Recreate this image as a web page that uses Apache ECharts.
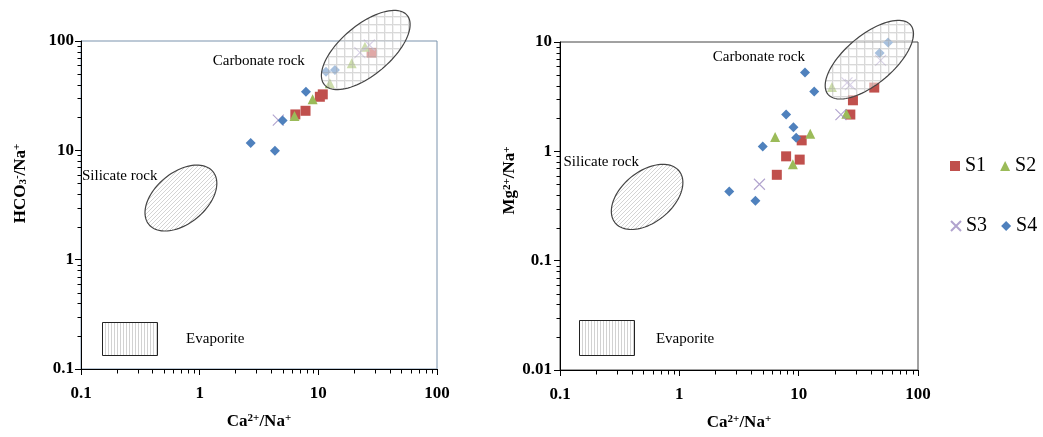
<!DOCTYPE html>
<html>
<head>
<meta charset="utf-8">
<script src="https://cdn.jsdelivr.net/npm/echarts@6/dist/echarts.min.js"></script>
<style>
  html, body { margin: 0; padding: 0; background: #fff; }
  #chart { width: 1043px; height: 437px; }
</style>
</head>
<body>
<div id="chart"></div>
<script>
// left panel: Ca/Na vs HCO3/Na, right panel: Ca/Na vs Mg/Na
const hco3S1 = [[6.4, 21.3], [7.8, 23.0], [10.3, 30.9], [10.9, 32.5], [28.1, 78.0]];
const hco3S2 = [[6.3, 20.6], [8.95, 29.3], [12.5, 41.0], [19.1, 62.5], [24.7, 88.7]];
const hco3S3 = [[4.6, 18.9], [22.4, 78.2], [26.9, 91.9]];
const hco3S4 = [[2.69, 11.7], [4.31, 9.9], [5.0, 18.7], [7.86, 34.4], [11.6, 52.3], [13.8, 54.3]];

const mgS1 = [[43.0, 3.83], [28.5, 2.93], [27.1, 2.17], [10.6, 1.26], [7.85, 0.90], [10.2, 0.84], [6.56, 0.61]];
const mgS2 = [[19.0, 3.88], [25.1, 2.21], [12.5, 1.45], [6.35, 1.35], [8.94, 0.76]];
const mgS3 = [[48.6, 6.8], [25.4, 4.23], [27.1, 4.08], [22.6, 2.17], [4.69, 0.50]];
const mgS4 = [[56.1, 9.9], [47.7, 7.94], [11.3, 5.27], [13.5, 3.52], [7.85, 2.17], [9.04, 1.66],
              [9.53, 1.33], [5.0, 1.11], [2.62, 0.43], [4.34, 0.353]];

// minor ticks (2..9 in each decade)
const xMinor = [0.2, 0.3, 0.4, 0.5, 0.6, 0.7, 0.8, 0.9, 2, 3, 4, 5, 6, 7, 8, 9, 20, 30, 40, 50, 60, 70, 80, 90];
const yMinorLeft = [0.2, 0.3, 0.4, 0.5, 0.6, 0.7, 0.8, 0.9, 2, 3, 4, 5, 6, 7, 8, 9, 20, 30, 40, 50, 60, 70, 80, 90];
const yMinorRight = [0.02, 0.03, 0.04, 0.05, 0.06, 0.07, 0.08, 0.09, 0.2, 0.3, 0.4, 0.5, 0.6, 0.7, 0.8, 0.9,
                     2, 3, 4, 5, 6, 7, 8, 9];

// rock-type fields (centre in data units, semi axes in decades)
const leftFields = [
  { center: [25.1, 82.7], a: 0.455, b: 0.21, rot: 40, fill: 'grid' },
  { center: [0.695, 3.66], a: 0.35, b: 0.215, rot: 39.5, fill: 'diag' }
];
const rightFields = [
  { center: [39.1, 6.89], a: 0.452, b: 0.203, rot: 40, fill: 'grid' },
  { center: [0.537, 0.383], a: 0.345, b: 0.213, rot: 39, fill: 'diag' }
];
const leftBox = [0.151, 0.267, 0.435, 0.132];
const rightBox = [0.145, 0.0285, 0.416, 0.0137];

const leftLabels = [['Carbonate rock', 1.29, 65.6], ['Silicate rock', 0.102, 5.8], ['Evaporite', 0.768, 0.188]];
const rightLabels = [['Carbonate rock', 1.91, 7.35], ['Silicate rock', 0.107, 0.79], ['Evaporite', 0.637, 0.0191]];

const serif = 'Liberation Serif';
const colors = { S1: '#c0504d', S2: '#9bbb59', S3: '#9d8cc2', S4: '#4f81bd' };

function makePattern(kind) {
  const c = document.createElement('canvas');
  const ctx = c.getContext('2d');
  if (kind === 'grid') {
    c.width = 8; c.height = 8;
    ctx.fillStyle = 'rgba(255,255,255,0.5)';
    ctx.fillRect(0, 0, 8, 8);
    ctx.fillStyle = 'rgba(160,160,160,0.4)';
    ctx.fillRect(0, 0, 8, 1);
    ctx.fillRect(0, 1, 1, 7);
    ctx.fillStyle = 'rgba(200,200,200,0.25)';
    ctx.fillRect(0, 1, 8, 1);
    ctx.fillRect(1, 2, 1, 6);
  } else if (kind === 'diag') {
    c.width = 4; c.height = 4;
    ctx.fillStyle = '#fff';
    ctx.fillRect(0, 0, 4, 4);
    ctx.strokeStyle = '#c2c2c2';
    ctx.lineWidth = 0.7;
    ctx.beginPath();
    ctx.moveTo(-1, 5); ctx.lineTo(5, -1);
    ctx.moveTo(-1, 1); ctx.lineTo(1, -1);
    ctx.moveTo(3, 5); ctx.lineTo(5, 3);
    ctx.stroke();
  } else {
    c.width = 3; c.height = 3;
    ctx.fillStyle = '#fff';
    ctx.fillRect(0, 0, 3, 3);
    ctx.fillStyle = '#d2d2d2';
    ctx.fillRect(0, 0, 1, 3);
  }
  return { image: c, repeat: 'repeat' };
}
const patterns = { grid: makePattern('grid'), diag: makePattern('diag'), vert: makePattern('vert') };

function fieldSeries(idx, fields, box) {
  const data = fields.map(f => f.center).concat([[box[0], box[1]]]);
  return {
    type: 'custom', xAxisIndex: idx, yAxisIndex: idx, silent: true, z: 3, clip: false,
    data: data,
    renderItem: function (params, api) {
      const i = params.dataIndex;
      if (i < fields.length) {
        const f = fields[i];
        const p0 = api.coord(f.center);
        const k = api.coord([f.center[0] * 10, f.center[1]])[0] - p0[0];
        const th = f.rot * Math.PI / 180;
        const pts = [];
        for (let j = 0; j < 96; j++) {
          const t = j / 96 * Math.PI * 2;
          const u = f.a * Math.cos(t) * k, v = f.b * Math.sin(t) * k;
          pts.push([p0[0] + u * Math.cos(th) - v * Math.sin(th), p0[1] - (u * Math.sin(th) + v * Math.cos(th))]);
        }
        return { type: 'polygon', shape: { points: pts }, style: { fill: patterns[f.fill], stroke: '#444', lineWidth: 1.2 } };
      }
      const p1 = api.coord([box[0], box[1]]);
      const p2 = api.coord([box[2], box[3]]);
      return {
        type: 'rect',
        shape: { x: Math.round(p1[0]) + 0.5, y: Math.round(p1[1]) + 0.5, width: Math.round(p2[0] - p1[0]), height: Math.round(p2[1] - p1[1]) },
        style: { fill: patterns.vert, stroke: '#222', lineWidth: 1 }
      };
    }
  };
}

function labelSeries(idx, labels) {
  return {
    type: 'custom', xAxisIndex: idx, yAxisIndex: idx, silent: true, z: 4, clip: false,
    data: labels.map(l => [l[1], l[2]]),
    renderItem: function (params, api) {
      const p = api.coord([api.value(0), api.value(1)]);
      return {
        type: 'text', x: p[0], y: p[1],
        style: {
          text: labels[params.dataIndex][0], fill: '#000', font: '15px "' + serif + '"',
          align: 'left', verticalAlign: 'middle', textAlign: 'left', textVerticalAlign: 'middle'
        }
      };
    }
  };
}

function minorTickSeries(idx, xs, ys, xMin, yMin) {
  const data = xs.map(v => [v, yMin, 0]).concat(ys.map(v => [xMin, v, 1]));
  return {
    type: 'custom', xAxisIndex: idx, yAxisIndex: idx, silent: true, z: 5, clip: false,
    data: data, encode: { x: 0, y: 1 },
    renderItem: function (params, api) {
      const p = api.coord([api.value(0), api.value(1)]);
      const x = Math.round(p[0]) + 0.5, y = Math.round(p[1]) + 0.5;
      const shape = api.value(2) === 0 ? { x1: x, y1: y, x2: x, y2: y + 4 } : { x1: x - 4, y1: y, x2: x, y2: y };
      return { type: 'line', shape: shape, style: { stroke: '#000', lineWidth: 1 } };
    }
  };
}

const symbols = {
  S1: { symbol: 'rect', symbolSize: 10 },
  S2: { symbol: 'triangle', symbolSize: 10 },
  S3: { symbol: 'path://M0,0L10,10M10,0L0,10', symbolSize: 11 },
  S4: { symbol: 'diamond', symbolSize: 10 }
};

function scatter(idx, name, data) {
  const s = {
    type: 'scatter', name: name, xAxisIndex: idx, yAxisIndex: idx, data: data, z: 2,
    symbol: symbols[name].symbol, symbolSize: symbols[name].symbolSize,
    itemStyle: { color: colors[name], opacity: 1 }
  };
  if (name === 'S3') s.itemStyle = { color: colors.S3, borderColor: colors.S3, borderWidth: 1.1 };
  return s;
}

const nameRich = {
  n: { fontFamily: serif, fontWeight: 'bold', fontSize: 17, color: '#000' },
  sup: { fontFamily: serif, fontWeight: 'bold', fontSize: 11, color: '#000', verticalAlign: 'top' },
  sub: { fontFamily: serif, fontWeight: 'bold', fontSize: 11, color: '#000', verticalAlign: 'bottom' }
};

function logAxis(idx, min, max, name, nameGap, labelMargin, namePad) {
  return {
    type: 'log', logBase: 10, gridIndex: idx, min: min, max: max,
    axisLine: { show: true, onZero: false, lineStyle: { color: '#000', width: 1 } },
    axisTick: { show: true, inside: false, length: 6, lineStyle: { color: '#000' } },
    axisLabel: { fontFamily: serif, fontWeight: 'bold', fontSize: 17, color: '#000', margin: labelMargin,
                 showMinLabel: true, showMaxLabel: true },
    splitLine: { show: false },
    name: name, nameLocation: 'middle', nameGap: nameGap,
    nameTextStyle: { fontFamily: serif, fontWeight: 'bold', fontSize: 17, color: '#000', rich: nameRich, padding: namePad || 0 }
  };
}

const caName = '{n|Ca}{sup|2+}{n|/Na}{sup|+}';
const legendText = { fontFamily: serif, fontSize: 20, color: '#000' };

const chart = echarts.init(document.getElementById('chart'), null, { renderer: 'canvas' });
chart.setOption({
  animation: false,
  backgroundColor: '#fff',
  grid: [
    { left: 81, top: 41, width: 356, height: 328, show: true, borderColor: '#7a93ad', borderWidth: 1, backgroundColor: 'transparent' },
    { left: 560, top: 42, width: 358, height: 328, show: true, borderColor: '#444', borderWidth: 1, backgroundColor: 'transparent' }
  ],
  xAxis: [
    logAxis(0, 0.1, 100, caName, 44, 16),
    logAxis(1, 0.1, 100, caName, 44, 16)
  ],
  yAxis: [
    logAxis(0, 0.1, 100, '{n|HCO}{sub|3}{sup|-}{n|/Na}{sup|+}', 52, 7, [0, 0, 0, 43]),
    logAxis(1, 0.01, 10, '{n|Mg}{sup|2+}{n|/Na}{sup|+}', 29, 8, [0, 0, 0, 51])
  ],
  legend: [
    { data: ['S1', 'S2'], orient: 'horizontal', left: 950, top: 156, width: 120, padding: 0,
      itemWidth: 10, itemHeight: 10, itemGap: 14, textStyle: legendText, selectedMode: false },
    { data: ['S3', 'S4'], orient: 'horizontal', left: 950, top: 216, width: 120, padding: 0,
      itemWidth: 10, itemHeight: 10, itemGap: 14, textStyle: legendText, selectedMode: false }
  ],
  series: [
    scatter(0, 'S1', hco3S1), scatter(0, 'S2', hco3S2), scatter(0, 'S3', hco3S3), scatter(0, 'S4', hco3S4),
    scatter(1, 'S1', mgS1), scatter(1, 'S2', mgS2), scatter(1, 'S3', mgS3), scatter(1, 'S4', mgS4),
    fieldSeries(0, leftFields, leftBox),
    fieldSeries(1, rightFields, rightBox),
    labelSeries(0, leftLabels),
    labelSeries(1, rightLabels),
    minorTickSeries(0, xMinor, yMinorLeft, 0.1, 0.1),
    minorTickSeries(1, xMinor, yMinorRight, 0.1, 0.01)
  ]
});
</script>
</body>
</html>
